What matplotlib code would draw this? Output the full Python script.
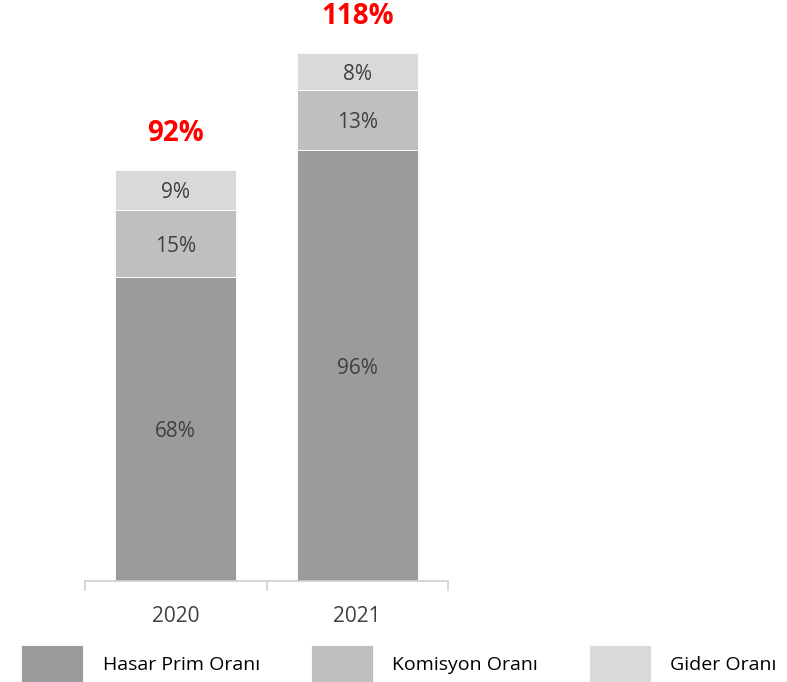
import matplotlib.pyplot as plt
import numpy as np

years = ["2020", "2021"]
hasar = [68.0, 96.4]
komisyon = [15.0, 13.4]
gider = [9.0, 8.3]
series_names = ["Hasar Prim Oranı", "Komisyon Oranı", "Gider Oranı"]
colors = ["#9b9b9d", "#bfbfbf", "#d9d9d9"]

plt.rcParams["font.family"] = ["Open Sans", "DejaVu Sans"]

fig = plt.figure(figsize=(7.87, 6.82), dpi=100)
ax = fig.add_axes([85 / 787, 101 / 682, 363 / 787, 561 / 682])

x = np.arange(len(years))
w = 0.665
bottom = np.zeros(len(years))
bars = []
for vals, col, name in zip([hasar, komisyon, gider], colors, series_names):
    b = ax.bar(x, vals, w, bottom=bottom, color=col, label=name,
               edgecolor="white", linewidth=0.6)
    bars.append(b)
    for xi, v, b0 in zip(x, vals, bottom):
        ax.text(xi, b0 + v / 2, f"{v:.0f}%", ha="center", va="center_baseline",
                fontsize=15, color="#404040")
    bottom = bottom + np.array(vals)

for xi, t in zip(x, bottom):
    ax.annotate(f"{t:.0f}%", (xi, t), xytext=(0, 26), textcoords="offset points",
                ha="center", va="center", fontsize=20, fontweight="bold",
                color="#ff0000")

ax.set_xlim(-0.5, 1.5)
ax.set_ylim(0, 125.5)
for s in ["top", "right", "left"]:
    ax.spines[s].set_visible(False)
ax.spines["bottom"].set_color("#d0d0d0")
ax.spines["bottom"].set_linewidth(1.2)
ax.set_yticks([])
ax.set_xticks(x)
ax.set_xticklabels(years, fontsize=15, color="#404040")
ax.tick_params(axis="x", which="major", length=0, pad=18)
ax.set_xticks([-0.5, 0.5, 1.5], minor=True)
ax.tick_params(axis="x", which="minor", length=7, width=1.2, color="#d0d0d0")

fig.legend(handles=bars, labels=series_names, loc="center",
           bbox_to_anchor=(399 / 787, 1 - 664 / 682), ncol=3, frameon=False,
           fontsize=14, handlelength=3.2, handleheight=2.6,
           handletextpad=1.0, columnspacing=2.6)

fig.savefig("out.png", dpi=100)
